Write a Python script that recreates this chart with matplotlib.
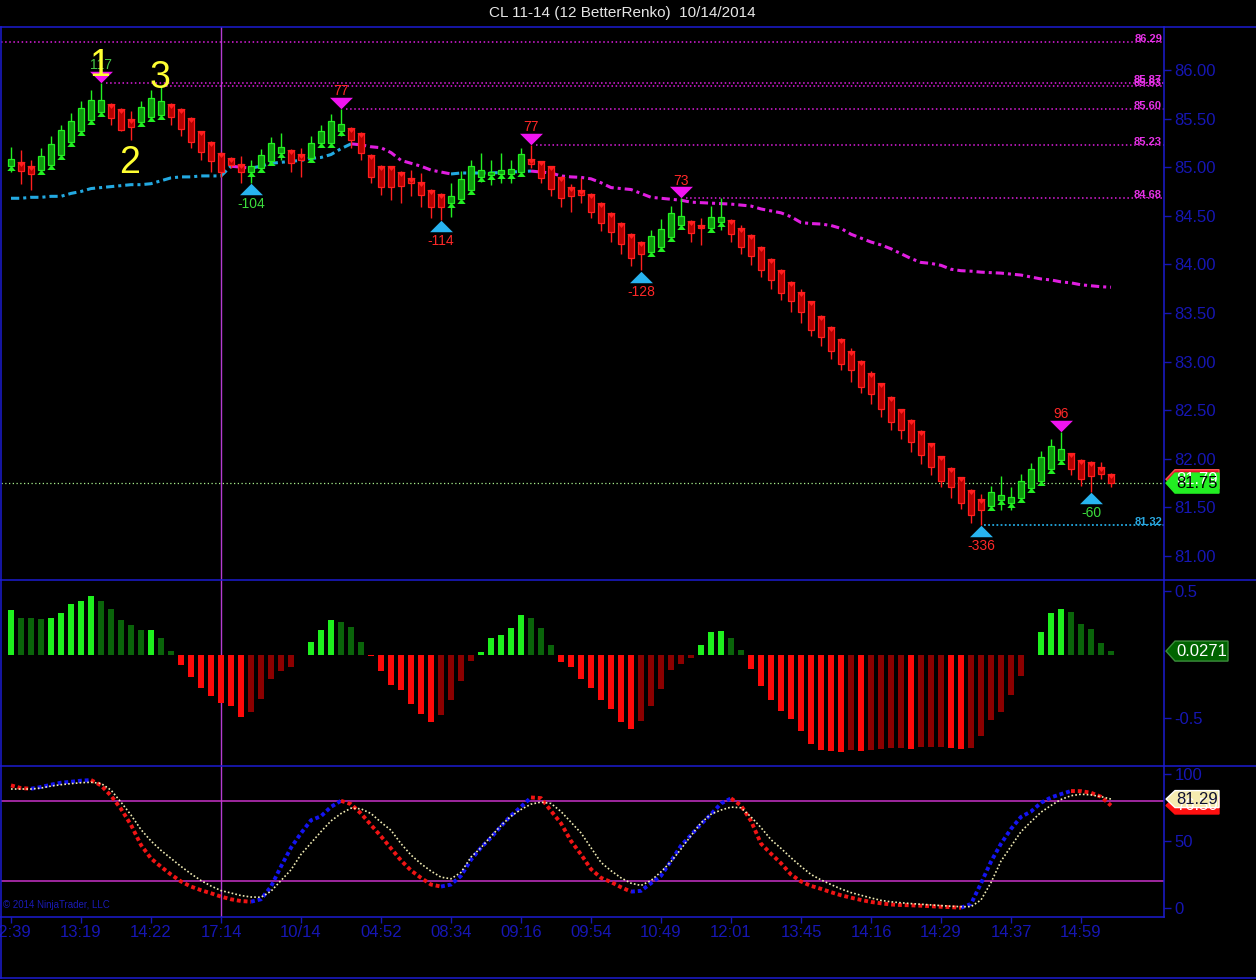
import numpy as np
import matplotlib
matplotlib.use('Agg')
import matplotlib.pyplot as plt
from matplotlib.patches import Rectangle, Polygon
from matplotlib.lines import Line2D
from matplotlib.transforms import IdentityTransform, blended_transform_factory

plt.rcParams['font.family'] = ['Liberation Sans', 'DejaVu Sans']

# ---------------- data ----------------
title = "CL 11-14 (12 BetterRenko)  10/14/2014"

opens = [85.01, 85.05, 85.01, 84.97, 85.02, 85.13, 85.26, 85.37, 85.49, 85.57,
         85.65, 85.60, 85.50, 85.46, 85.52, 85.54, 85.65, 85.60, 85.51, 85.37,
         85.26, 85.15, 85.09, 85.03, 84.95, 84.99, 85.06, 85.15, 85.18, 85.14,
         85.09, 85.25, 85.25, 85.37, 85.40, 85.35, 85.13, 85.01, 85.01, 84.95,
         84.89, 84.85, 84.77, 84.72, 84.63, 84.67, 84.77, 84.90, 84.92, 84.93,
         84.93, 84.95, 85.08, 85.06, 85.01, 84.90, 84.80, 84.76, 84.72, 84.63,
         84.53, 84.43, 84.31, 84.23, 84.13, 84.18, 84.28, 84.40, 84.45, 84.40,
         84.37, 84.44, 84.46, 84.37, 84.30, 84.18, 84.06, 83.94, 83.82, 83.72,
         83.62, 83.47, 83.36, 83.23, 83.11, 83.01, 82.88, 82.78, 82.64, 82.51,
         82.40, 82.29, 82.16, 82.03, 81.91, 81.81, 81.68, 81.59, 81.51, 81.58,
         81.55, 81.60, 81.70, 81.77, 81.90, 81.99, 82.06, 81.99, 81.97, 81.92,
         81.84]
highs = [85.21, 85.18, 85.07, 85.20, 85.32, 85.43, 85.56, 85.68, 85.79, 85.87,
         85.66, 85.61, 85.58, 85.68, 85.79, 85.83, 85.66, 85.61, 85.52, 85.37,
         85.27, 85.16, 85.10, 85.11, 85.07, 85.19, 85.31, 85.35, 85.19, 85.20,
         85.32, 85.43, 85.55, 85.60, 85.41, 85.36, 85.14, 85.02, 85.01, 84.96,
         84.97, 84.94, 84.78, 84.73, 84.84, 84.96, 85.07, 85.15, 85.07, 85.15,
         85.07, 85.20, 85.23, 85.06, 85.01, 84.91, 84.83, 84.89, 84.73, 84.64,
         84.54, 84.44, 84.32, 84.24, 84.35, 84.47, 84.60, 84.68, 84.46, 84.48,
         84.60, 84.68, 84.47, 84.41, 84.31, 84.19, 84.07, 83.95, 83.83, 83.75,
         83.62, 83.48, 83.37, 83.24, 83.14, 83.02, 82.90, 82.78, 82.65, 82.51,
         82.41, 82.30, 82.16, 82.03, 81.92, 81.81, 81.69, 81.64, 81.72, 81.82,
         81.71, 81.84, 81.96, 82.08, 82.20, 82.28, 82.06, 82.00, 81.98, 81.97,
         81.85]
lows = [84.95, 84.83, 84.77, 84.95, 85.00, 85.12, 85.25, 85.35, 85.48, 85.56,
        85.43, 85.37, 85.28, 85.44, 85.51, 85.53, 85.43, 85.32, 85.20, 85.07,
        84.95, 84.90, 84.99, 84.84, 84.84, 84.98, 85.05, 85.07, 84.95, 84.90,
        85.08, 85.24, 85.24, 85.32, 85.20, 85.07, 84.84, 84.71, 84.66, 84.63,
        84.70, 84.59, 84.48, 84.46, 84.49, 84.66, 84.76, 84.85, 84.82, 84.84,
        84.84, 84.95, 84.99, 84.84, 84.70, 84.59, 84.54, 84.63, 84.48, 84.34,
        84.23, 84.11, 83.98, 83.94, 84.13, 84.16, 84.28, 84.36, 84.23, 84.20,
        84.34, 84.35, 84.23, 84.11, 83.99, 83.87, 83.75, 83.63, 83.51, 83.40,
        83.26, 83.16, 83.03, 82.91, 82.79, 82.68, 82.56, 82.43, 82.30, 82.20,
        82.07, 81.95, 81.83, 81.71, 81.60, 81.48, 81.34, 81.32, 81.50, 81.47,
        81.47, 81.60, 81.69, 81.76, 81.89, 81.97, 81.83, 81.72, 81.66, 81.79,
        81.71]
closes = [85.08, 84.96, 84.93, 85.12, 85.24, 85.38, 85.47, 85.61, 85.69, 85.69,
          85.51, 85.38, 85.41, 85.62, 85.71, 85.68, 85.52, 85.39, 85.26, 85.16,
          85.06, 84.95, 85.02, 84.95, 85.01, 85.13, 85.25, 85.21, 85.04, 85.07,
          85.25, 85.37, 85.47, 85.44, 85.28, 85.15, 84.90, 84.80, 84.80, 84.81,
          84.84, 84.71, 84.59, 84.59, 84.70, 84.88, 85.01, 84.97, 84.95, 84.97,
          84.98, 85.14, 85.03, 84.89, 84.78, 84.68, 84.70, 84.71, 84.54, 84.43,
          84.33, 84.21, 84.07, 84.11, 84.29, 84.36, 84.53, 84.50, 84.32, 84.37,
          84.49, 84.49, 84.31, 84.18, 84.09, 83.94, 83.84, 83.71, 83.62, 83.51,
          83.33, 83.25, 83.11, 82.98, 82.91, 82.74, 82.67, 82.51, 82.38, 82.30,
          82.17, 82.04, 81.92, 81.77, 81.71, 81.54, 81.42, 81.47, 81.66, 81.63,
          81.61, 81.77, 81.89, 82.02, 82.13, 82.10, 81.89, 81.79, 81.82, 81.84,
          81.75]

ma_values = [84.68, 84.68, 84.69, 84.69, 84.70, 84.70, 84.73, 84.75, 84.78, 84.79,
             84.80, 84.81, 84.82, 84.82, 84.83, 84.86, 84.89, 84.90, 84.90, 84.91,
             84.91, 84.91, 85.01, 85.00, 84.99, 85.01, 85.04, 85.05, 85.06, 85.07,
             85.09, 85.10, 85.13, 85.19, 85.24, 85.23, 85.21, 85.20, 85.15, 85.07,
             85.04, 85.01, 84.97, 84.95, 84.93, 84.94, 84.94, 84.94, 84.94, 84.945,
             84.95, 84.955, 84.96, 84.95, 84.94, 84.91, 84.90, 84.895, 84.88, 84.84,
             84.79, 84.78, 84.77, 84.73, 84.69, 84.68, 84.67, 84.66, 84.64, 84.635,
             84.63, 84.625, 84.62, 84.61, 84.60, 84.57, 84.55, 84.53, 84.49, 84.43,
             84.42, 84.415, 84.40, 84.37, 84.31, 84.27, 84.23, 84.20, 84.16, 84.11,
             84.06, 84.02, 84.01, 83.99, 83.95, 83.935, 83.93, 83.92, 83.915, 83.91,
             83.90, 83.89, 83.87, 83.85, 83.84, 83.82, 83.81, 83.79, 83.78, 83.77,
             83.765]

hist_values = [0.35, 0.29, 0.285, 0.277, 0.29, 0.33, 0.40, 0.42, 0.46, 0.42,
               0.36, 0.27, 0.23, 0.19, 0.195, 0.13, 0.03, -0.08, -0.175, -0.26,
               -0.325, -0.385, -0.405, -0.49, -0.45, -0.35, -0.19, -0.13, -0.096, 0.0,
               0.097, 0.19, 0.27, 0.26, 0.22, 0.10, -0.01, -0.13, -0.24, -0.28,
               -0.39, -0.47, -0.53, -0.48, -0.36, -0.21, -0.05, 0.02, 0.13, 0.15,
               0.21, 0.31, 0.29, 0.21, 0.075, -0.06, -0.10, -0.19, -0.26, -0.36,
               -0.43, -0.53, -0.585, -0.52, -0.405, -0.27, -0.12, -0.075, -0.03, 0.075,
               0.18, 0.185, 0.13, 0.035, -0.115, -0.245, -0.36, -0.445, -0.51, -0.60,
               -0.705, -0.75, -0.76, -0.765, -0.75, -0.76, -0.75, -0.745, -0.74, -0.74,
               -0.745, -0.725, -0.725, -0.725, -0.74, -0.745, -0.74, -0.645, -0.515, -0.45,
               -0.32, -0.17, 0.0, 0.18, 0.33, 0.36, 0.335, 0.24, 0.20, 0.09,
               0.0271]

fast_values = [91.5, 89.5, 89.0, 90.3, 92.0, 93.5, 94.2, 95.0, 95.5, 91.5,
               83.8, 74.0, 62.0, 47.0, 37.0, 30.8, 25.0, 19.8, 16.0, 13.3,
               11.0, 8.5, 6.5, 5.2, 4.7, 6.5, 16.0, 31.0, 45.0, 55.8,
               65.5, 68.5, 75.5, 80.0, 77.5, 70.5, 62.0, 53.5, 44.5, 35.5,
               28.0, 22.5, 17.5, 16.0, 17.5, 24.0, 36.0, 45.0, 52.5, 61.0,
               69.0, 75.5, 82.5, 82.0, 72.5, 63.2, 50.0, 40.0, 29.0, 22.5,
               19.4, 15.5, 12.2, 12.8, 18.5, 24.0, 35.0, 46.5, 54.5, 62.5,
               70.0, 78.0, 81.8, 76.5, 65.0, 48.0, 40.5, 33.4, 25.0, 19.8,
               16.5, 14.3, 11.8, 9.5, 7.7, 6.0, 4.5, 3.5, 2.6, 2.2,
               2.0, 1.7, 1.3, 0.9, 0.6, 0.2, 3.0, 18.4, 34.6, 48.0,
               59.0, 68.0, 72.0, 78.5, 82.5, 85.0, 87.3, 87.2, 86.0, 83.0,
               76.5]

slow_values = [88.8, 88.8, 88.8, 89.5, 91.0, 92.0, 92.8, 93.5, 93.8, 93.0,
               88.0, 79.0, 69.4, 58.5, 50.0, 43.0, 37.0, 31.0, 25.5, 20.5,
               16.4, 13.0, 11.2, 9.3, 8.2, 8.0, 12.5, 20.5, 28.5, 40.0,
               48.5, 57.0, 65.0, 70.5, 74.5, 74.0, 70.5, 64.0, 58.0, 48.0,
               39.5, 33.0, 27.5, 23.0, 21.8, 26.6, 38.0, 45.0, 53.5, 61.5,
               68.5, 73.5, 77.5, 79.0, 78.0, 72.0, 64.0, 56.0, 45.0, 34.0,
               27.8, 22.5, 18.5, 16.8, 20.5, 27.0, 34.6, 44.0, 54.0, 63.5,
               70.0, 73.1, 75.3, 74.8, 68.0, 60.0, 51.0, 44.5, 37.5, 31.0,
               25.0, 21.0, 17.5, 14.2, 11.5, 9.5, 7.5, 5.7, 4.6, 3.9,
               3.3, 2.8, 2.3, 1.8, 1.3, 1.0, 1.0, 6.0, 19.0, 35.0,
               46.0, 57.0, 64.4, 71.5, 76.5, 81.0, 83.8, 84.9, 84.4, 83.1,
               81.29]

x_tick_pos = [0, 7, 14, 21, 29, 37, 44, 51, 58, 65, 72, 79, 86, 93, 100, 107]
x_tick_labels = ['12:39', '13:19', '14:22', '17:14', '10/14', '04:52', '08:34', '09:16',
                 '09:54', '10:49', '12:01', '13:45', '14:16', '14:29', '14:37', '14:59']
price_ticks = [81.0, 81.5, 82.0, 82.5, 83.0, 83.5, 84.0, 84.5, 85.0, 85.5, 86.0]
hist_ticks = [0.5, -0.5]
osc_ticks = [0, 50, 100]
osc_levels = [80, 20]

swing_high_bars = [9, 33, 52, 67, 105]
swing_high_labels = ['117', '77', '77', '73', '96']
swing_high_label_colors = ['#46C846', '#FF2828', '#FF2828', '#FF2828', '#FF2828']
swing_low_bars = [24, 43, 63, 97, 108]
swing_low_labels = ['-104', '-114', '-128', '-336', '-60']
swing_low_label_colors = ['#3CDC3C', '#FF2828', '#FF2828', '#FF2828', '#3CDC3C']

wave_labels = ['1', '2', '3']
wave_bars = [9, 12, 15]
wave_anchor = ['high', 'low', 'high']
wave_offset_px = [16.5, -5, 8.5]

level_values = [86.29, 85.87, 85.83, 85.60, 85.23, 84.68]
level_start_bars = [None, 9, 15, 33, 52, 67]
low_level_value = 81.32
low_level_start_bar = 97

last_price = 81.75
prev_price_tag = 81.79
hist_last_label = '0.0271'
fast_last_label = '76.50'
slow_last_label = '81.29'
crosshair_bar = 21

# ---------------- styles ----------------
W, H = 1256, 980
BLUE = '#1C1CD2'
TICKBLUE = '#1616B4'
MAGENTA = '#E01EE0'
CYAN = '#23A9E1'

fig = plt.figure(figsize=(W / 100, H / 100), dpi=100, facecolor='black')


def add_ax(top, bottom):
    ax = fig.add_axes([1 / W, 1 - bottom / H, 1163 / W, (bottom - top) / H], facecolor='black')
    for s in ax.spines.values():
        s.set_visible(False)
    return ax


ax1 = add_ax(27, 580)
ax2 = add_ax(580, 766)
ax3 = add_ax(766, 917)

n = len(closes)
x = np.arange(n)
xlim = (-1.0, 115.3)
for ax in (ax1, ax2, ax3):
    ax.set_xlim(*xlim)

ax1.set_ylim(80.753, 86.442)
ax2.set_ylim(-0.878, 0.587)
ax3.set_ylim(-6.72, 105.97)

dpp1 = (86.442 - 80.753) / ax1.bbox.height  # price per pixel


def split_by_slope(vals):
    v = np.asarray(vals, float)
    up = np.full_like(v, np.nan)
    dn = np.full_like(v, np.nan)
    for k in range(len(v) - 1):
        if v[k + 1] >= v[k]:
            up[k] = v[k]; up[k + 1] = v[k + 1]
        else:
            dn[k] = v[k]; dn[k + 1] = v[k + 1]
    return up, dn


# ---- price panel ----
ax1.axvline(crosshair_bar, color='#B43CD2', lw=1.0, zorder=1)
ax1.axhline(last_price, color='#A8F08C', lw=0.9, linestyle=(0, (1, 2)), zorder=1)

for val, sb in zip(level_values, level_start_bars):
    x0 = xlim[0] if sb is None else sb + 0.5
    ax1.hlines(val, x0, xlim[1], colors=MAGENTA, lw=1.1, linestyles=[(0, (1, 1.7))], zorder=2)
ax1.hlines(low_level_value, low_level_start_bar + 0.3, xlim[1], colors=CYAN, lw=1.3,
           linestyles=[(0, (1, 1.3))], zorder=2)

tr_lbl = blended_transform_factory(ax1.transAxes, ax1.transData)
for val in level_values:
    ax1.text(0.9983, val, f'{val:.2f}', transform=tr_lbl, ha='right', va='baseline',
             color='#E632E6', fontsize=8, fontweight='bold', zorder=3)
ax1.text(0.9983, low_level_value, f'{low_level_value:.2f}', transform=tr_lbl, ha='right',
         va='baseline', color='#2AA8E0', fontsize=8, fontweight='bold', zorder=3)

# moving average colored by slope
ma_up, ma_dn = split_by_slope(ma_values)
ax1.plot(x, ma_up, color=CYAN, lw=2.2, linestyle=(0, (2.7, 1.3, 1, 1.3)), zorder=3)
ax1.plot(x, ma_dn, color=MAGENTA, lw=2.2, linestyle=(0, (2.7, 1.3, 1, 1.3)), zorder=3)

# candles
bw = 0.55
tri_up = [(-1, -0.6), (1, -0.6), (0, 0.6)]
tri_dn = [(-1, 0.6), (1, 0.6), (0, -0.6)]
for i in range(n):
    o, h, l, c = opens[i], highs[i], lows[i], closes[i]
    up = c >= o
    edge = '#22F022' if up else '#FF1E1E'
    face = '#0E9A0E' if up else '#B40000'
    ax1.vlines(i, l, h, colors=edge, lw=1.0, zorder=4)
    ax1.add_patch(Rectangle((i - bw / 2, min(o, c)), bw, max(abs(c - o), 0.005),
                            facecolor=face, edgecolor=edge, lw=0.9, zorder=5))
    ax1.plot([i], [o - 2 * dpp1], linestyle='none', marker=tri_up if up else tri_dn,
             markersize=6.0, color=edge, markeredgewidth=0, zorder=6)

# swing markers
big_dn = [(-1, 0.5), (1, 0.5), (0, -0.5)]
big_up = [(-1, -0.5), (1, -0.5), (0, 0.5)]
for b, lab, col in zip(swing_high_bars, swing_high_labels, swing_high_label_colors):
    ax1.plot([b], [highs[b] + 6 * dpp1], linestyle='none', marker=big_dn, markersize=16.5,
             color='#F014F0', markeredgewidth=0, zorder=7)
    ax1.annotate(lab, (b, highs[b]), xytext=(0, 17.5), textcoords='offset pixels',
                 ha='center', va='center', color=col, fontsize=10, zorder=8)
for b, lab, col in zip(swing_low_bars, swing_low_labels, swing_low_label_colors):
    ax1.plot([b], [lows[b] - 6.5 * dpp1], linestyle='none', marker=big_up, markersize=16.5,
             color='#28B4F0', markeredgewidth=0, zorder=7)
    ax1.annotate(lab, (b, lows[b]), xytext=(0, -21.5), textcoords='offset pixels',
                 ha='center', va='center', color=col, fontsize=10, zorder=8)

for lab, b, anc, off in zip(wave_labels, wave_bars, wave_anchor, wave_offset_px):
    yv = highs[b] if anc == 'high' else lows[b]
    ax1.annotate(lab, (b - 0.1, yv), xytext=(0, off), textcoords='offset pixels',
                 ha='center', va='center' if anc == 'high' else 'top',
                 color='#FFFF32', fontsize=27, zorder=9)

# ---- histogram panel ----
ax2.axvline(crosshair_bar, color='#B43CD2', lw=1.0, zorder=1)
hcolors = []
for i, v in enumerate(hist_values):
    prev = hist_values[i - 1] if i > 0 else 0.0
    if v >= 0:
        hcolors.append('#1EF01E' if v > prev else '#0A640A')
    else:
        hcolors.append('#FF0A0A' if v < prev else '#8C0000')
ax2.bar(x, hist_values, width=0.6, color=hcolors, linewidth=0, zorder=3)

# ---- oscillator panel ----
ax3.axvline(crosshair_bar, color='#B43CD2', lw=1.0, zorder=1)
for lv in osc_levels:
    ax3.axhline(lv, color='#C832C8', lw=1.1, zorder=1)
f_up, f_dn = split_by_slope(fast_values)
ax3.plot(x, f_up, color='#1414F0', lw=2.8, linestyle=(0, (1, 0.75)), zorder=3)
ax3.plot(x, f_dn, color='#F01414', lw=2.8, linestyle=(0, (1, 0.75)), zorder=3)
ax3.plot(x, slow_values, color='#F0EBB4', lw=1.2, linestyle=(0, (1, 1.3)), zorder=4)
ax3.text(0.002, 0.045, '\u00a9 2014 NinjaTrader, LLC', transform=ax3.transAxes,
         color='#1A1AB4', fontsize=7, ha='left', va='bottom')

# ---- ticks ----
for ax, ticks, fmt in ((ax1, price_ticks, '{:.2f}'), (ax2, hist_ticks, '{:g}'), (ax3, osc_ticks, '{:g}')):
    ax.yaxis.tick_right()
    ax.set_yticks(ticks)
    ax.set_yticklabels([fmt.format(t) for t in ticks])
    ax.tick_params(axis='y', colors=TICKBLUE, labelsize=12, length=5, width=1.0,
                   direction='out', pad=2.5, labelcolor=TICKBLUE)
for ax in (ax1, ax2):
    ax.set_xticks([])
ax3.set_xticks(x_tick_pos)
ax3.set_xticklabels(x_tick_labels)
ax3.tick_params(axis='x', colors=TICKBLUE, labelsize=12, length=4, width=1.0,
                direction='out', pad=1.5, labelcolor=TICKBLUE)

# ---- frame lines (pixel coords) ----
ident = IdentityTransform()


def hline_px(py, x0, x1):
    fig.add_artist(Line2D([x0, x1], [H - py, H - py], color=BLUE, lw=1.1, transform=ident))


def vline_px(px, y0, y1):
    fig.add_artist(Line2D([px, px], [H - y0, H - y1], color=BLUE, lw=1.1, transform=ident))


for py in (27, 580, 766, 978):
    hline_px(py, 0, W)
hline_px(917, 0, 1164)
vline_px(1, 27, 978)
vline_px(1164, 27, 917)

# ---- title ----
fig.text(622 / W, 1 - 13 / H, title, ha='center', va='center', color='#E6E6E6', fontsize=11)

# ---- value tags ----


def tag(ax, value, text, fc, ec, tc, width=53, height=19, dy=0):
    yc = ax.transData.transform((0, value))[1] + dy
    xl = 1166
    d = 9
    verts = [(xl, yc), (xl + d, yc + height / 2), (xl + width, yc + height / 2),
             (xl + width, yc - height / 2), (xl + d, yc - height / 2)]
    fig.add_artist(Polygon(verts, closed=True, transform=ident, facecolor=fc,
                           edgecolor=ec, lw=1.0))
    fig.text(xl + d + (width - d) / 2, yc, text, transform=ident, ha='center',
             va='center', color=tc, fontsize=12)


tag(ax1, prev_price_tag, f'{prev_price_tag:.2f}', '#E8102A', '#FF5050', 'white')
tag(ax1, last_price, f'{last_price:.2f}', '#22EE22', '#22EE22', 'black', height=20)
tag(ax2, hist_values[-1], hist_last_label, '#006400', '#3C8C3C', 'white', width=62, height=20)
tag(ax3, fast_values[-1], fast_last_label, '#FF1010', '#FF1010', 'white', height=17)
tag(ax3, slow_values[-1], slow_last_label, '#F5EBB0', '#FFFFFF', '#101030', height=17)

fig.savefig('out.png', dpi=100, facecolor='black')
